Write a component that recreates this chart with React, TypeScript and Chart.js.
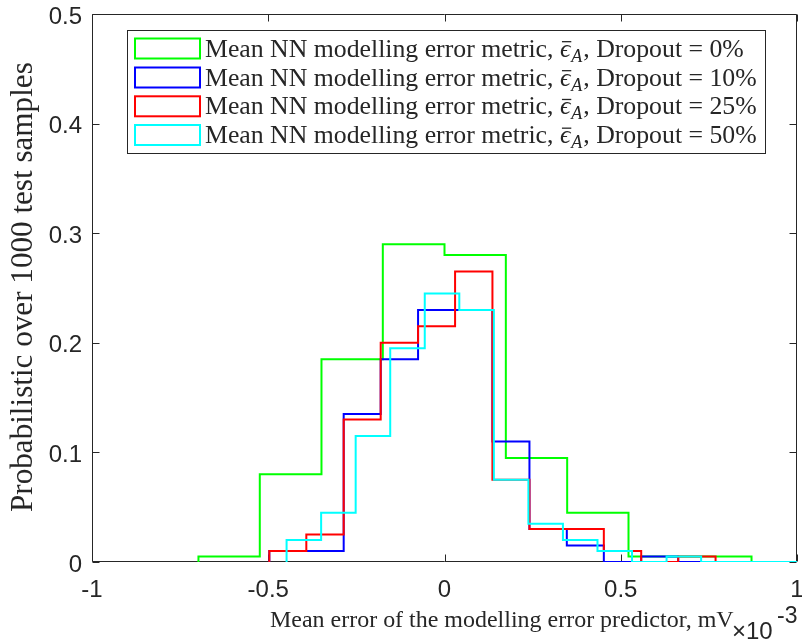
import React, { useEffect, useRef } from 'react';
import { Chart, registerables } from 'chart.js';

Chart.register(...registerables);

// ---- Axis ticks ----
const xTickValues = [-1, -0.5, 0, 0.5, 1];
const xTickLabels = ['-1', '-0.5', '0', '0.5', '1'];
const yTickValues = [0, 0.1, 0.2, 0.3, 0.4, 0.5];
const yTickLabels = ['0', '0.1', '0.2', '0.3', '0.4', '0.5'];

// ---- Series (bin edges in units of 1e-3 mV, probabilities) ----
const dropout0Edges = [-0.698, -0.524, -0.349, -0.175, 0.0, 0.174, 0.348, 0.522, 0.697, 0.871];
const dropout0Values = [0.005, 0.08, 0.185, 0.29, 0.28, 0.095, 0.045, 0.005, 0.005];

const dropout10Edges = [-0.497, -0.392, -0.286, -0.181, -0.075, 0.03, 0.136, 0.241, 0.347, 0.452, 0.558, 0.663, 0.769];
const dropout10Values = [0.01, 0.01, 0.135, 0.185, 0.23, 0.23, 0.11, 0.03, 0.015, 0, 0.005, 0];

const dropout25Edges = [-0.497, -0.392, -0.286, -0.181, -0.075, 0.03, 0.136, 0.241, 0.347, 0.452, 0.558, 0.663, 0.769];
const dropout25Values = [0.01, 0.025, 0.13, 0.2, 0.215, 0.265, 0.075, 0.03, 0.03, 0.01, 0, 0.005];

const dropout50Edges = [-0.448, -0.35, -0.252, -0.154, -0.056, 0.042, 0.14, 0.238, 0.336, 0.434, 0.532, 0.63, 0.728, 0.826, 0.924, 1.022];
const dropout50Values = [0.02, 0.045, 0.115, 0.195, 0.245, 0.23, 0.075, 0.035, 0.02, 0.01, 0, 0.005, 0, 0, 0];

const legendPercents = ['0%', '10%', '25%', '50%'];
const legendColors = ['#00ff00', '#0000ff', '#ff0000', '#00ffff'];

const xTitle = 'Mean error of the modelling error predictor, mV';
const yTitle = 'Probabilistic over 1000 test samples';

const SERIF = '"Liberation Serif", "DejaVu Serif", serif';
const SANS = '"Liberation Sans", Arial, sans-serif';
const AXIS = '#262626';

function stairs(edges: number[], values: number[]) {
  const pts: { x: number; y: number }[] = [{ x: edges[0], y: 0 }];
  for (let i = 0; i < values.length; i++) pts.push({ x: edges[i], y: values[i] });
  pts.push({ x: edges[values.length], y: 0 });
  return pts;
}

function fitSize(ctx: CanvasRenderingContext2D, text: string, width: number, family: string, style = '') {
  ctx.font = `${style} 100px ${family}`;
  const w = ctx.measureText(text).width;
  return (100 * width) / w;
}

function legendLabel(ctx: CanvasRenderingContext2D, x: number, yBase: number, pct: string, size: number, draw: boolean) {
  let cx = x;
  const t1 = 'Mean NN modelling error metric, ';
  ctx.font = `${size}px ${SERIF}`;
  if (draw) ctx.fillText(t1, cx, yBase);
  cx += ctx.measureText(t1).width;
  ctx.font = `italic ${size}px ${SERIF}`;
  const eps = '\u03F5';
  const ew = ctx.measureText(eps).width;
  if (draw) {
    ctx.fillText(eps, cx, yBase);
    ctx.fillRect(cx + size * 0.08, yBase - size * 0.6, ew - size * 0.04, Math.max(1, size * 0.05));
  }
  cx += ew;
  const sub = size * 0.7;
  ctx.font = `italic ${sub}px ${SERIF}`;
  if (draw) ctx.fillText('A', cx + 1, yBase + size * 0.2);
  cx += ctx.measureText('A').width + 2;
  ctx.font = `${size}px ${SERIF}`;
  const t2 = `, Dropout = ${pct}`;
  if (draw) ctx.fillText(t2, cx, yBase);
  cx += ctx.measureText(t2).width;
  return cx - x;
}

const framePlugin = {
  id: 'matlabFrame',
  beforeDatasetsDraw(chart: any) {
    const { ctx, chartArea: a, scales } = chart;
    ctx.save();
    ctx.strokeStyle = AXIS;
    ctx.lineWidth = 1;
    const L = Math.round(a.left) + 0.5;
    const R = Math.round(a.right) - 0.5;
    const T = Math.round(a.top) + 0.5;
    const B = Math.round(a.bottom) - 0.5;
    ctx.beginPath();
    ctx.rect(L, T, R - L, B - T);
    const tl = 7;
    xTickValues.forEach((v) => {
      const px = Math.round(scales.x.getPixelForValue(v)) + 0.5;
      ctx.moveTo(px, B);
      ctx.lineTo(px, B - tl);
      ctx.moveTo(px, T);
      ctx.lineTo(px, T + tl);
    });
    yTickValues.forEach((v) => {
      const py = Math.round(scales.y.getPixelForValue(v)) + 0.5;
      ctx.moveTo(L, py);
      ctx.lineTo(L + tl, py);
      ctx.moveTo(R, py);
      ctx.lineTo(R - tl, py);
    });
    ctx.stroke();
    ctx.restore();
  },
  afterDraw(chart: any) {
    const { ctx } = chart;
    ctx.save();
    ctx.fillStyle = AXIS;
    ctx.textAlign = 'left';
    ctx.textBaseline = 'alphabetic';

    // x title
    const xs = fitSize(ctx, xTitle, 464, SERIF);
    ctx.font = `${xs}px ${SERIF}`;
    ctx.fillText(xTitle, 270, 627);

    // exponent
    ctx.font = `24px ${SANS}`;
    ctx.fillText('\u00D710', 732, 639);
    ctx.font = `23px ${SANS}`;
    ctx.fillText('-3', 777, 623);

    // y title
    const ys = fitSize(ctx, yTitle, 450, SERIF);
    ctx.save();
    ctx.translate(32, 512);
    ctx.rotate(-Math.PI / 2);
    ctx.font = `${ys}px ${SERIF}`;
    ctx.fillText(yTitle, 0, 0);
    ctx.restore();

    // legend box
    const bx = 127.5, by = 30.5, bw = 638, bh = 123;
    ctx.fillStyle = '#ffffff';
    ctx.fillRect(bx, by, bw, bh);
    ctx.strokeStyle = AXIS;
    ctx.lineWidth = 1;
    ctx.strokeRect(bx, by, bw, bh);

    let size = 25;
    const w = legendLabel(ctx, 0, 0, '50%', size, false);
    size = (size * 552) / w;

    const rowCenters = [48.5, 77.5, 106.3, 135];
    legendPercents.forEach((pct, i) => {
      const cy = rowCenters[i];
      ctx.strokeStyle = legendColors[i];
      ctx.lineWidth = 2;
      ctx.strokeRect(135, cy - 10, 65, 20);
      ctx.fillStyle = AXIS;
      legendLabel(ctx, 205, cy + 8, pct, size, true);
    });
    ctx.restore();
  },
};

export default function App() {
  const ref = useRef<HTMLCanvasElement | null>(null);

  useEffect(() => {
    if (!ref.current) return;
    const ds = (edges: number[], values: number[], color: string, label: string) => ({
      label,
      data: stairs(edges, values),
      borderColor: color,
      backgroundColor: color,
      borderWidth: 2,
      pointRadius: 0,
      fill: false,
      stepped: 'before' as const,
      tension: 0,
      borderJoinStyle: 'miter' as const,
    });
    const chart = new Chart(ref.current, {
      type: 'line',
      data: {
        datasets: [
          ds(dropout50Edges, dropout50Values, legendColors[3], 'Dropout = 50%'),
          ds(dropout25Edges, dropout25Values, legendColors[2], 'Dropout = 25%'),
          ds(dropout10Edges, dropout10Values, legendColors[1], 'Dropout = 10%'),
          ds(dropout0Edges, dropout0Values, legendColors[0], 'Dropout = 0%'),
        ],
      },
      options: {
        responsive: false,
        animation: false,
        devicePixelRatio: 1,
        layout: { padding: { top: 14, right: 5, left: 0, bottom: 0 } },
        plugins: { legend: { display: false }, tooltip: { enabled: false } },
        scales: {
          x: {
            type: 'linear',
            min: -1,
            max: 1,
            grid: { display: false, drawTicks: false },
            border: { display: false },
            afterBuildTicks: (s: any) => {
              s.ticks = xTickValues.map((v) => ({ value: v }));
            },
            afterFit: (s: any) => {
              s.height = 77;
              s.paddingLeft = 0;
              s.paddingRight = 0;
            },
            ticks: {
              autoSkip: false,
              maxRotation: 0,
              padding: 14,
              color: AXIS,
              font: { family: SANS, size: 24 },
              callback: (v: any) => xTickLabels[xTickValues.indexOf(Number(v))] ?? '',
            },
          },
          y: {
            type: 'linear',
            min: 0,
            max: 0.5,
            grid: { display: false, drawTicks: false },
            border: { display: false },
            afterBuildTicks: (s: any) => {
              s.ticks = yTickValues.map((v) => ({ value: v }));
            },
            afterFit: (s: any) => {
              s.width = 92;
              s.paddingTop = 0;
              s.paddingBottom = 0;
            },
            ticks: {
              autoSkip: false,
              padding: 10,
              labelOffset: 3,
              color: AXIS,
              font: { family: SANS, size: 24 },
              callback: (v: any) => yTickLabels[yTickValues.findIndex((t) => Math.abs(t - Number(v)) < 1e-9)] ?? '',
            },
          },
        },
      },
      plugins: [framePlugin],
    });
    return () => chart.destroy();
  }, []);

  return (
    <div style={{ position: 'fixed', left: 0, top: 0, width: 802, height: 639, background: '#fff' }}>
      <canvas ref={ref} width={802} height={639} style={{ width: 802, height: 639, display: 'block' }} />
    </div>
  );
}
